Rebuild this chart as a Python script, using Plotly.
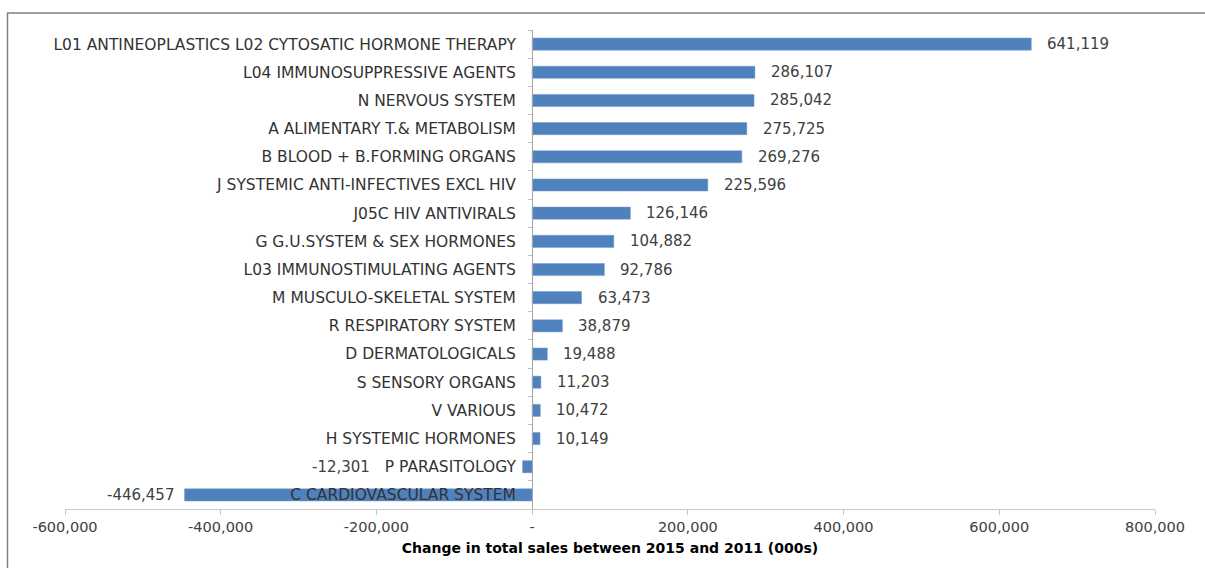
import plotly.graph_objects as go

categories = [
    "L01 ANTINEOPLASTICS L02 CYTOSATIC HORMONE THERAPY",
    "L04 IMMUNOSUPPRESSIVE AGENTS",
    "N NERVOUS SYSTEM",
    "A ALIMENTARY T.& METABOLISM",
    "B BLOOD + B.FORMING ORGANS",
    "J SYSTEMIC ANTI-INFECTIVES EXCL HIV",
    "J05C HIV ANTIVIRALS",
    "G G.U.SYSTEM & SEX HORMONES",
    "L03 IMMUNOSTIMULATING AGENTS",
    "M MUSCULO-SKELETAL SYSTEM",
    "R RESPIRATORY SYSTEM",
    "D DERMATOLOGICALS",
    "S SENSORY ORGANS",
    "V VARIOUS",
    "H SYSTEMIC HORMONES",
    "P PARASITOLOGY",
    "C CARDIOVASCULAR SYSTEM",
]
values = [641119, 286107, 285042, 275725, 269276, 225596, 126146, 104882,
          92786, 63473, 38879, 19488, 11203, 10472, 10149, -12301, -446457]
tick_vals = [-600000, -400000, -200000, 0, 200000, 400000, 600000, 800000]
tick_text = ["-600,000", "-400,000", "-200,000", "-", "200,000", "400,000", "600,000", "800,000"]

FONT = "DejaVu Sans"
TXT = "#404040"

fig = go.Figure(go.Bar(
    x=values, y=categories, orientation="h",
    marker=dict(color="#4F81BD", line=dict(color="#6F9BD1", width=0.5)),
    width=0.43,
))

annotations = []
for c, v in zip(categories, values):
    shift = 14 if v >= 0 else -9
    if c == "P PARASITOLOGY":
        shift = -151
    annotations.append(dict(
        x=v, y=c, xref="x", yref="y", text=f"{v:,}", showarrow=False,
        xanchor="left" if v >= 0 else "right", xshift=shift,
        font=dict(family=FONT, size=15, color=TXT),
    ))

L, R, T, B = 65, 50, 30, 59
W, H = 1205, 568
pw, ph = W - L - R, H - T - B

fig.update_layout(
    width=W, height=H,
    margin=dict(l=L, r=R, t=T, b=B),
    paper_bgcolor="white", plot_bgcolor="white",
    showlegend=False,
    font=dict(family=FONT, size=14, color=TXT),
    annotations=annotations,
    xaxis=dict(
        range=[-600000, 800000], tickvals=tick_vals, ticktext=tick_text,
        showgrid=False, zeroline=False, showline=True, linecolor="#C8C8C8", linewidth=1,
        ticks="outside", ticklen=5, tickcolor="#C8C8C8",
        tickfont=dict(family=FONT, size=14.5, color=TXT),
        title=dict(text="<b>Change in total sales between 2015 and 2011 (000s)</b>",
                   font=dict(family=FONT, size=14, color="#000000"), standoff=8),
    ),
    yaxis=dict(
        autorange="reversed", anchor="free", position=(532 - L) / pw,
        showgrid=False, zeroline=False, showline=True, linecolor="#A6A6A6", linewidth=1,
        ticks="outside", ticklen=4, tickcolor="#BFBFBF", tickson="boundaries",
        tickfont=dict(family=FONT, size=15.5, color="#333333"), ticklabelstandoff=13,
    ),
    shapes=[
        dict(type="line", xref="paper", yref="paper",
             x0=(7 - L) / pw, x1=(W - L) / pw, y0=(H - B - 13) / ph, y1=(H - B - 13) / ph,
             line=dict(color="#7F7F7F", width=1.5)),
        dict(type="line", xref="paper", yref="paper",
             x0=(7.5 - L) / pw, x1=(7.5 - L) / pw, y0=(H - B - 13) / ph, y1=-B / ph,
             line=dict(color="#7F7F7F", width=1.5)),
    ],
)

fig.write_html("out.html", config={"displayModeBar": False},
               post_script="document.body.style.margin='0';")
